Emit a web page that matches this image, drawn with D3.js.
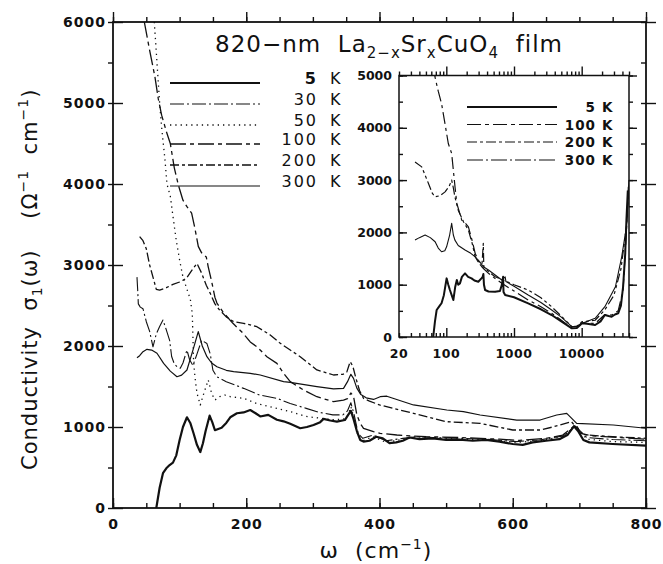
<!DOCTYPE html>
<html>
<head>
<meta charset="utf-8">
<script src="https://cdn.jsdelivr.net/npm/d3@7"></script>
<style>
body { margin: 0; background: #fff; }
svg text { font-family: "DejaVu Sans", sans-serif; fill: #111; }
</style>
</head>
<body>
<div id="chart"></div>
<script>
// main panel: sigma_1 (ohm^-1 cm^-1) vs omega (cm^-1)
let main5K = [[65,0],[70,250],[75,430],[80,490],[85,530],[90,560],[95,650],[100,840],[105,1000],[111,1120],[116,1050],[121,920],[126,780],[131,690],[135,800],[139,950],[145,1140],[149,1060],[153,960],[163,990],[170,1050],[176,1120],[186,1170],[196,1180],[206,1210],[214,1170],[221,1130],[233,1150],[246,1090],[256,1070],[266,1040],[281,985],[291,1000],[301,1025],[311,1060],[316,1100],[326,1080],[336,1066],[348,1086],[353,1150],[357,1200],[361,1100],[366,950],[371,840],[376,820],[385,830],[395,880],[405,860],[415,800],[425,810],[435,830],[445,870],[460,850],[480,860],[500,840],[520,845],[540,830],[560,840],[580,820],[600,790],[615,780],[630,810],[650,830],[670,850],[682,900],[692,1010],[698,950],[706,840],[715,810],[750,790],[800,770]];
let main30K = [[36,2850],[37,2700],[38,2520],[41,2480],[45,2460],[50,2300],[55,2180],[60,1990],[65,2150],[70,2240],[75,2320],[80,2200],[85,2070],[88,1870],[92,1780],[96,1745],[101,1725],[105,1790],[108,1870],[111,1950],[115,1830],[120,1760],[126,1900],[133,2070],[141,2030],[146,1900],[150,1700],[156,1620],[170,1560],[196,1477],[220,1395],[246,1354],[266,1290],[290,1230],[310,1180],[330,1150],[345,1150],[352,1200],[357,1300],[362,1150],[368,920],[375,860],[390,900],[410,830],[435,860],[455,880],[480,870],[525,860],[560,850],[605,820],[640,840],[676,890],[694,1010],[711,870],[750,845],[800,830]];
let main50K = [[62,6000],[66,5500],[70,5000],[73,4700],[78,4300],[81,4000],[86,3850],[90,3600],[95,3300],[100,3060],[105,2850],[111,2700],[116,2580],[119,2400],[120,2100],[121,1800],[123,1620],[126,1420],[131,1272],[135,1380],[138,1457],[143,1580],[148,1416],[153,1333],[160,1374],[168,1395],[176,1374],[196,1354],[216,1290],[236,1250],[266,1190],[290,1130],[310,1110],[330,1090],[348,1100],[353,1150],[357,1250],[362,1100],[368,880],[375,830],[390,880],[410,810],[435,850],[455,880],[475,865],[525,850],[560,845],[605,810],[640,830],[676,885],[695,1015],[711,850],[750,820],[800,810]];
let main100K = [[47,6000],[55,5650],[63,5320],[68,5050],[73,4850],[80,4650],[86,4500],[92,4200],[98,3990],[105,3800],[111,3720],[118,3640],[123,3450],[128,3230],[133,3150],[140,3100],[143,2975],[148,2800],[153,2600],[156,2530],[165,2420],[180,2280],[195,2160],[206,2050],[216,1990],[231,1868],[246,1786],[256,1663],[266,1560],[286,1457],[306,1374],[331,1313],[346,1333],[352,1350],[357,1420],[361,1380],[366,1150],[371,1045],[376,984],[391,942],[401,922],[426,901],[470,880],[520,870],[580,850],[610,835],[650,860],[675,900],[695,1030],[702,920],[720,890],[760,870],[800,850]];
let main200K = [[40,3350],[45,3300],[50,3200],[55,3000],[60,2850],[65,2700],[70,2690],[80,2720],[90,2760],[100,2790],[110,2835],[118,2930],[126,3020],[133,2900],[140,2750],[146,2650],[153,2520],[160,2444],[170,2360],[181,2300],[196,2280],[216,2238],[236,2136],[250,2040],[266,1950],[281,1868],[306,1704],[331,1642],[345,1650],[351,1680],[356,1806],[360,1750],[364,1620],[370,1450],[376,1354],[385,1320],[400,1272],[451,1169],[500,1066],[551,1045],[600,963],[641,963],[660,1000],[671,1025],[688,1066],[696,990],[701,922],[711,901],[750,880],[801,860]];
let main300K = [[36,1855],[40,1880],[45,1930],[51,1959],[58,1950],[66,1910],[76,1786],[86,1690],[96,1621],[103,1640],[111,1704],[120,1950],[128,2177],[134,2000],[141,1868],[148,1790],[156,1744],[170,1700],[181,1683],[206,1663],[221,1642],[256,1560],[266,1550],[306,1498],[331,1470],[346,1477],[352,1560],[357,1650],[361,1600],[366,1480],[372,1400],[380,1360],[391,1340],[401,1374],[411,1380],[451,1272],[501,1210],[526,1189],[551,1148],[606,1086],[641,1086],[666,1148],[681,1169],[696,1045],[751,1025],[801,984]];

// inset: same quantity on a log frequency axis
let inset5K = [[64,0],[68,300],[72,516],[80,600],[85,645],[92,800],[101,1121],[107,1000],[113,898],[120,800],[127,707],[135,950],[143,1089],[150,1000],[159,1025],[170,1150],[189,1216],[210,1150],[236,1121],[260,1080],[297,1057],[330,1120],[345,1150],[353,1203],[360,1000],[374,898],[420,870],[526,866],[620,880],[660,993],[690,1150],[700,860],[740,802],[1000,760],[1620,643],[2500,530],[3600,420],[5000,300],[7160,166],[8470,170],[9500,230],[10000,262],[12000,255],[15800,229],[19000,300],[22000,420],[25000,400],[27700,388],[31000,430],[34600,453],[38000,600],[40900,961],[44000,1600],[45800,2235],[48000,2800]];
let inset100K = [[62,5600],[68,4972],[76,4700],[85,4464],[95,4100],[107,3700],[120,3509],[127,3190],[135,2850],[143,2554],[155,2400],[169,2235],[190,2180],[212,2107],[240,1850],[267,1599],[300,1450],[335,1343],[360,1300],[420,1217],[526,1120],[660,1026],[1000,880],[1620,707],[2500,580],[3600,453],[5000,320],[7160,166],[8470,180],[10000,270],[15800,260],[22000,430],[27700,420],[34600,500],[40900,900],[45800,2000],[49000,2900]];
let inset200K = [[34.5,3348],[43.3,3253],[54.5,2936],[62,2750],[68.3,2680],[80,2700],[95.9,2775],[110,2880],[120,3000],[127,2850],[134,2680],[150,2425],[180,2200],[212,2044],[240,1800],[267,1534],[300,1420],[335,1343],[352,1790],[358,1343],[420,1250],[526,1152],[1000,1000],[1620,898],[2500,750],[3600,579],[5000,400],[7160,197],[8470,200],[10000,290],[15800,320],[22000,520],[30000,800],[38000,1300],[45800,2100],[50000,3000]];
let inset300K = [[34.5,1853],[40,1900],[48.6,1949],[58,1900],[68.3,1821],[76,1700],[85,1630],[95,1650],[101,1725],[112,1950],[120,2172],[127,1950],[134,1853],[150,1750],[189,1662],[230,1600],[267,1534],[310,1440],[353,1343],[420,1280],[660,1089],[740,1150],[760,1060],[1000,970],[1620,802],[2500,660],[3600,516],[5000,380],[7160,197],[8470,210],[10000,260],[15800,357],[22000,579],[31500,961],[39000,1534],[45800,2107],[50000,2900]];

let mainLabels = ['5', '30', '50', '100', '200', '300'];
let insetLabels = ['5', '100', '200', '300'];
let mainXTicks = [0, 200, 400, 600, 800];
let mainYTicks = [0, 1000, 2000, 3000, 4000, 5000, 6000];
let insetXTicks = [20, 100, 1000, 10000];
let insetYTicks = [0, 1000, 2000, 3000, 4000, 5000];

let svgwidth = 663;
let svgheight = 564;

let svg = d3.select('#chart')
    .append('svg')
    .attr('width', svgwidth)
    .attr('height', svgheight);

// main frame
let frame = {left: 113, right: 646, top: 22, bottom: 508};

let xscale = d3.scaleLinear().domain([0, 800]).range([frame.left, frame.right]);
let yscale = d3.scaleLinear().domain([0, 6000]).range([frame.bottom, frame.top]);

// line styles per curve
let mainStyles = [
    {dash: null, width: 2.2},
    {dash: '14,3,2,3', width: 1.1},
    {dash: '1.3,4', width: 1.3},
    {dash: '16,4,4,4', width: 1.3},
    {dash: '9,3,3,3', width: 1.3},
    {dash: null, width: 1.2}
];
let mainSeries = [main5K, main30K, main50K, main100K, main200K, main300K];

svg.append('clipPath').attr('id', 'clipmain')
    .append('rect')
    .attr('x', frame.left).attr('y', frame.top)
    .attr('width', frame.right - frame.left)
    .attr('height', frame.bottom - frame.top);

// minor + major ticks, inward, on all four sides
function inwardTicks(g, axisFn, scale, values, size, pad, fmt) {
    let ax = axisFn(scale).tickValues(values).tickSizeInner(-size).tickSizeOuter(0).tickPadding(pad);
    ax.tickFormat(fmt || '');
    g.call(ax);
    g.select('.domain').remove();
    g.selectAll('line').attr('stroke', '#111').attr('stroke-width', 1.4);
    return g;
}

let xMinor = d3.range(0, 801, 50);
let yMinor = d3.range(0, 6001, 500);

inwardTicks(svg.append('g').attr('transform', `translate(0,${frame.bottom})`), d3.axisBottom, xscale, xMinor, 5, 0);
inwardTicks(svg.append('g').attr('transform', `translate(0,${frame.top})`), d3.axisTop, xscale, xMinor, -5, 0);
inwardTicks(svg.append('g').attr('transform', `translate(${frame.left},0)`), d3.axisLeft, yscale, yMinor, -5, 0);
inwardTicks(svg.append('g').attr('transform', `translate(${frame.right},0)`), d3.axisRight, yscale, yMinor, 5, 0);

let xAxisMain = inwardTicks(svg.append('g').attr('transform', `translate(0,${frame.bottom})`),
    d3.axisBottom, xscale, mainXTicks, 10, 11, d3.format('d'));
inwardTicks(svg.append('g').attr('transform', `translate(0,${frame.top})`), d3.axisTop, xscale, mainXTicks, -10, 0);
let yAxisMain = inwardTicks(svg.append('g').attr('transform', `translate(${frame.left},0)`),
    d3.axisLeft, yscale, mainYTicks, 10, 7, d3.format('d'));
inwardTicks(svg.append('g').attr('transform', `translate(${frame.right},0)`), d3.axisRight, yscale, mainYTicks, -10, 0);

xAxisMain.selectAll('text').attr('font-size', 14).attr('font-weight', 'bold').attr('letter-spacing', '1px').attr('fill', '#111');
yAxisMain.selectAll('text').attr('font-size', 14).attr('font-weight', 'bold').attr('letter-spacing', '1px').attr('fill', '#111');

svg.append('rect')
    .attr('x', frame.left).attr('y', frame.top)
    .attr('width', frame.right - frame.left)
    .attr('height', frame.bottom - frame.top)
    .attr('fill', 'none')
    .attr('stroke', '#111')
    .attr('stroke-width', 1.8);

// main curves
let mainline = d3.line()
    .x(d => xscale(d[0]))
    .y(d => yscale(d[1]));

svg.append('g').attr('clip-path', 'url(#clipmain)')
    .selectAll('path')
    .data(mainSeries)
    .enter()
    .append('path')
    .attr('d', mainline)
    .attr('fill', 'none')
    .attr('stroke', '#111')
    .attr('stroke-width', (d, i) => mainStyles[i].width)
    .attr('stroke-dasharray', (d, i) => mainStyles[i].dash)
    .attr('stroke-linejoin', 'round');

// title
let title = svg.append('text')
    .attr('x', 389)
    .attr('y', 52)
    .attr('text-anchor', 'middle')
    .attr('font-size', 23)
    .attr('letter-spacing', '1px');
title.append('tspan').text('820\u2212nm  La');
title.append('tspan').attr('font-size', 15).attr('dy', 6).text('2\u2212x');
title.append('tspan').attr('dy', -6).text('Sr');
title.append('tspan').attr('font-size', 15).attr('dy', 6).text('x');
title.append('tspan').attr('dy', -6).text('CuO');
title.append('tspan').attr('font-size', 15).attr('dy', 6).text('4');
title.append('tspan').attr('dy', -6).text('  film');
title.attr('xml:space', 'preserve');

// main legend
let legendY = [83, 104, 125, 144, 165, 186];
let legend = svg.append('g');
legend.selectAll('line')
    .data(mainLabels)
    .enter()
    .append('line')
    .attr('x1', 170).attr('x2', 260)
    .attr('y1', (d, i) => legendY[i]).attr('y2', (d, i) => legendY[i])
    .attr('stroke', '#111')
    .attr('stroke-width', (d, i) => mainStyles[i].width)
    .attr('stroke-dasharray', (d, i) => mainStyles[i].dash);
legend.selectAll('.num')
    .data(mainLabels)
    .enter()
    .append('text')
    .attr('class', 'num')
    .attr('x', 318)
    .attr('y', (d, i) => legendY[i] + 1)
    .attr('text-anchor', 'end')
    .attr('font-size', 16)
    .attr('letter-spacing', '2px')
    .attr('font-weight', (d, i) => i === 0 ? 'bold' : 'normal')
    .text(d => d);
legend.selectAll('.unit')
    .data(mainLabels)
    .enter()
    .append('text')
    .attr('class', 'unit')
    .attr('x', 330)
    .attr('y', (d, i) => legendY[i] + 1)
    .attr('font-size', 16)
    .text('K');

// axis titles
svg.append('text')
    .attr('x', 376).attr('y', 558)
    .attr('text-anchor', 'middle')
    .attr('font-size', 22)
    .attr('letter-spacing', '1px')
    .attr('xml:space', 'preserve')
    .html('\u03c9  (cm<tspan font-size="14" dy="-9">\u22121</tspan><tspan dy="9">)</tspan>');

let ylab = svg.append('text')
    .attr('transform', 'translate(37,470) rotate(-90)')
    .attr('font-size', 21)
    .attr('letter-spacing', '1px')
    .attr('xml:space', 'preserve');
ylab.append('tspan').text('Conductivity  \u03c3');
ylab.append('tspan').attr('font-size', 14).attr('dy', 5).text('1');
ylab.append('tspan').attr('dy', -5).text('(\u03c9)    (\u03a9');
ylab.append('tspan').attr('font-size', 14).attr('dy', -9).text('\u22121');
ylab.append('tspan').attr('dy', 9).text('  cm');
ylab.append('tspan').attr('font-size', 14).attr('dy', -9).text('\u22121');
ylab.append('tspan').attr('dy', 9).text(')');

// ---------------- inset ----------------
let inset = {left: 399, right: 629, top: 75.5, bottom: 337};
let xlog = d3.scaleLog().domain([20, 50000]).range([inset.left, inset.right]);
let yin = d3.scaleLinear().domain([0, 5000]).range([inset.bottom, inset.top]);

svg.append('rect')
    .attr('x', inset.left).attr('y', inset.top)
    .attr('width', inset.right - inset.left)
    .attr('height', inset.bottom - inset.top)
    .attr('fill', '#fff');

svg.append('clipPath').attr('id', 'clipinset')
    .append('rect')
    .attr('x', inset.left).attr('y', inset.top)
    .attr('width', inset.right - inset.left)
    .attr('height', inset.bottom - inset.top);

let logMinor = [];
[10, 100, 1000, 10000].forEach(function(dec) {
    for (let k = 2; k <= 9; k++) {
        let v = dec * k;
        if (v >= 20 && v <= 50000) logMinor.push(v);
    }
});
let logMajor = [100, 1000, 10000];

inwardTicks(svg.append('g').attr('transform', `translate(0,${inset.bottom})`), d3.axisBottom, xlog, logMinor, 4, 0);
inwardTicks(svg.append('g').attr('transform', `translate(0,${inset.top})`), d3.axisTop, xlog, logMinor, -4, 0);
inwardTicks(svg.append('g').attr('transform', `translate(0,${inset.bottom})`), d3.axisBottom, xlog, logMajor, 9, 0);
inwardTicks(svg.append('g').attr('transform', `translate(0,${inset.top})`), d3.axisTop, xlog, logMajor, -9, 0);
inwardTicks(svg.append('g').attr('transform', `translate(${inset.left},0)`), d3.axisLeft, yin, d3.range(0, 5001, 500), 4, 0);
inwardTicks(svg.append('g').attr('transform', `translate(${inset.right},0)`), d3.axisRight, yin, d3.range(0, 5001, 500), -4, 0);
inwardTicks(svg.append('g').attr('transform', `translate(${inset.left},0)`), d3.axisLeft, yin, insetYTicks, 8, 0);
inwardTicks(svg.append('g').attr('transform', `translate(${inset.right},0)`), d3.axisRight, yin, insetYTicks, -8, 0);

// inset tick labels
svg.append('g').selectAll('text')
    .data(insetXTicks)
    .enter()
    .append('text')
    .attr('x', d => xlog(d))
    .attr('y', 358)
    .attr('text-anchor', 'middle')
    .attr('font-size', 12.5)
    .attr('font-weight', 'bold')
    .attr('letter-spacing', '0.5px')
    .text(d => d);
svg.append('g').selectAll('text')
    .data(insetYTicks)
    .enter()
    .append('text')
    .attr('x', 392)
    .attr('y', d => yin(d) + 4.5)
    .attr('text-anchor', 'end')
    .attr('font-size', 12.5)
    .attr('font-weight', 'bold')
    .text(d => d);

svg.append('rect')
    .attr('x', inset.left).attr('y', inset.top)
    .attr('width', inset.right - inset.left)
    .attr('height', inset.bottom - inset.top)
    .attr('fill', 'none')
    .attr('stroke', '#111')
    .attr('stroke-width', 1.5);

let insetStyles = [
    {dash: null, width: 2},
    {dash: '12,4,3,4', width: 1.2},
    {dash: '9,3,3,3,3,3', width: 1.2},
    {dash: null, width: 1.1}
];
let insetSeries = [inset5K, inset100K, inset200K, inset300K];

let insetline = d3.line()
    .x(d => xlog(d[0]))
    .y(d => yin(d[1]));

svg.append('g').attr('clip-path', 'url(#clipinset)')
    .selectAll('path')
    .data(insetSeries)
    .enter()
    .append('path')
    .attr('d', insetline)
    .attr('fill', 'none')
    .attr('stroke', '#111')
    .attr('stroke-width', (d, i) => insetStyles[i].width)
    .attr('stroke-dasharray', (d, i) => insetStyles[i].dash)
    .attr('stroke-linejoin', 'round');

// inset legend
let insetLegendY = [107, 124.5, 142, 160];
let insetLegendDash = [null, '14,4,4,4', '10,3,3,3', '16,3,2,3'];
svg.append('g').selectAll('line')
    .data(insetLabels)
    .enter()
    .append('line')
    .attr('x1', 467).attr('x2', 557)
    .attr('y1', (d, i) => insetLegendY[i]).attr('y2', (d, i) => insetLegendY[i])
    .attr('stroke', '#111')
    .attr('stroke-width', (d, i) => i === 0 ? 2 : 1.2)
    .attr('stroke-dasharray', (d, i) => insetLegendDash[i]);
svg.append('g').selectAll('text')
    .data(insetLabels)
    .enter()
    .append('text')
    .attr('x', 596)
    .attr('y', (d, i) => insetLegendY[i] + 5)
    .attr('text-anchor', 'end')
    .attr('font-size', 13.5)
    .attr('font-weight', 'bold')
    .attr('letter-spacing', '1px')
    .text(d => d);
svg.append('g').selectAll('text')
    .data(insetLabels)
    .enter()
    .append('text')
    .attr('x', 602)
    .attr('y', (d, i) => insetLegendY[i] + 5)
    .attr('font-size', 13.5)
    .attr('font-weight', 'bold')
    .text('K');
</script>
</body>
</html>
